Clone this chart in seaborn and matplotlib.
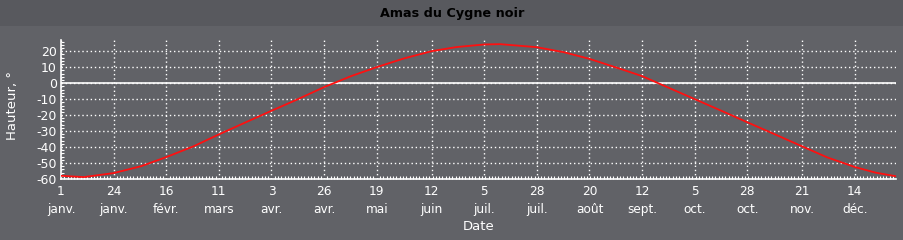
import numpy as np
import pandas as pd
import matplotlib
matplotlib.use("Agg")
import matplotlib.pyplot as plt
from matplotlib.ticker import MultipleLocator, FixedLocator
from matplotlib.patches import Rectangle
import seaborn as sns

# données (jour de l'année, hauteur en degrés)
days = [0, 10, 23, 35, 46, 58, 69, 80, 92, 103, 115, 127, 138, 150, 162, 173,
        185, 192, 208, 220, 231, 245, 254, 261, 277, 289, 300, 312, 324, 335,
        347, 356, 365]
altitude = [-58.0, -58.8, -56.3, -52.0, -46.3, -39.5, -32.1, -25.0, -17.3, -10.4,
            -2.5, 4.5, 10.0, 15.5, 20.0, 22.6, 24.2, 24.4, 22.5, 19.3, 15.2, 8.7,
            4.4, 0.0, -10.0, -17.5, -24.5, -32.0, -39.6, -46.5, -52.5, -56.0, -58.3]

tick_days = [0, 23, 46, 69, 92, 115, 138, 162, 185, 208, 231, 254, 277, 300, 324, 347]
tick_labels = ["1\njanv.", "24\njanv.", "16\nfévr.", "11\nmars", "3\navr.", "26\navr.",
               "19\nmai", "12\njuin", "5\njuil.", "28\njuil.", "20\naoût", "12\nsept.",
               "5\noct.", "28\noct.", "21\nnov.", "14\ndéc."]
y_ticks = [20, 10, 0, -10, -20, -30, -40, -50, -60]

bg = "#616267"
band = "#58595e"

sns.set_theme(style="dark", rc={
    "figure.facecolor": bg,
    "axes.facecolor": bg,
    "axes.edgecolor": "white",
    "text.color": "white",
    "xtick.color": "white",
    "ytick.color": "white",
    "axes.labelcolor": "white",
})
plt.rcParams["font.family"] = ["DejaVu Sans"]

df = pd.DataFrame({"jour": days, "hauteur": altitude})

fig = plt.figure(figsize=(9.04, 2.40), dpi=100)
fig.patches.append(Rectangle((0, 1 - 26 / 240), 1, 26 / 240, transform=fig.transFigure,
                             facecolor=band, edgecolor="none", zorder=0))
ax = fig.add_axes([61 / 904, 1 - 179 / 240, (896 - 61) / 904, (179 - 40) / 240])

sns.lineplot(data=df, x="jour", y="hauteur", color="#ff1010", lw=1.3, ax=ax, zorder=5)

ax.set_xlim(0, 365)
ax.set_ylim(-60, 27)
ax.xaxis.set_major_locator(FixedLocator(tick_days))
ax.set_xticklabels(tick_labels, fontsize=8.7, linespacing=1.45)
ax.xaxis.set_minor_locator(MultipleLocator(23 / 16))
ax.set_yticks(y_ticks)
ax.set_yticklabels([str(v) for v in y_ticks], fontsize=9)
ax.yaxis.set_minor_locator(MultipleLocator(2))

ax.tick_params(axis="both", which="major", direction="in", length=4, width=1)
ax.tick_params(axis="x", which="major", pad=4.5)
ax.tick_params(axis="y", which="major", pad=3)
ax.tick_params(axis="both", which="minor", direction="in", length=2.5, width=0.8,
               bottom=True, left=True)

ax.grid(True, which="major", color="white", ls=(0, (1, 2)), lw=1)
ax.axhline(0, color="white", lw=1.2, zorder=4)

for s in ["top", "right"]:
    ax.spines[s].set_visible(False)
for s in ["left", "bottom"]:
    ax.spines[s].set_color("white")
    ax.spines[s].set_linewidth(1.2)

ax.set_xlabel("Date", fontsize=9.5)
ax.xaxis.set_label_coords(0.5, -(220 - 179) / 139)
ax.set_ylabel("Hauteur, °", fontsize=9.5)
ax.yaxis.set_label_coords(-(61 - 19) / 835, (179 - 105) / 139)

fig.text(0.5, 1 - 13 / 240, "Amas du Cygne noir", color="black", fontsize=9.2,
         fontweight="bold", ha="center", va="center")

fig.savefig("out.png", dpi=100, facecolor=bg)
